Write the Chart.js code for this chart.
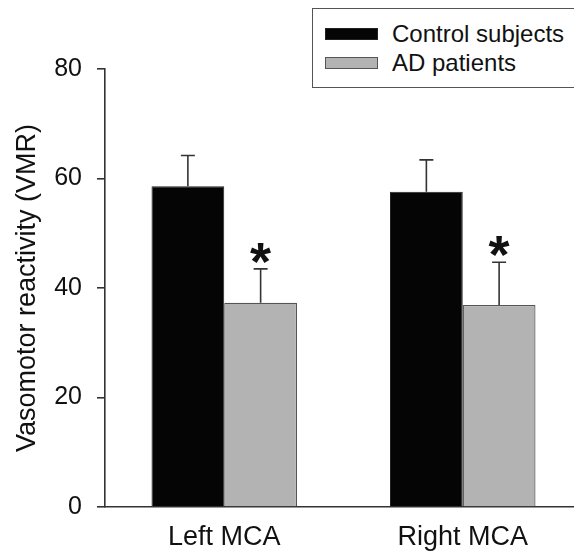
<!DOCTYPE html>
<html>
<head>
<meta charset="utf-8">
<script src="https://cdn.jsdelivr.net/npm/chart.js@4.4.1/dist/chart.umd.min.js"></script>
<style>
  html, body { margin: 0; padding: 0; background: #fff; overflow: hidden; }
  /* canvas is a little wider than the page: the x axis runs off the right edge */
  #wrap { position: relative; width: 574px; height: 552px; overflow: hidden; }
  #legend {
    position: absolute; left: 312px; top: 8px; width: 300px; height: 78px;
    border: 1.5px solid #555; background: #fff;
    font-family: "Liberation Sans", Arial, sans-serif; font-size: 24px; color: #111;
  }
  .row { position: absolute; left: 12px; height: 26px; display: flex; align-items: center; }
  .sw { width: 51px; height: 10px; margin-right: 14px; border: 1px solid #444; }
</style>
</head>
<body>
<div id="wrap">
  <canvas id="vmrChart" width="582" height="552"></canvas>
  <div id="legend"></div>
</div>
<script>
const categories = ['Left MCA', 'Right MCA'];
const controlValues = [58.6, 57.6];
const controlErrors = [5.6, 5.8];
const adValues = [37.3, 36.9];
const adErrors = [6.2, 7.8];
const significant = [false, true];   // per dataset: mark with *
const yTicks = [0, 20, 40, 60, 80];

const fontFamily = '"Liberation Sans", Arial, sans-serif';

const datasets = [{
  label: 'Control subjects',
  data: controlValues,
  errors: controlErrors,
  backgroundColor: '#050505',
  borderColor: '#222',
  borderWidth: 1
}, {
  label: 'AD patients',
  data: adValues,
  errors: adErrors,
  backgroundColor: '#b3b3b3',
  borderColor: '#555',
  borderWidth: 1.2
}];

// upper error bars plus the * marks
const errorBars = {
  id: 'errorBars',
  afterDatasetsDraw(chart) {
    const ctx = chart.ctx;
    const y = chart.scales.y;
    ctx.save();
    chart.data.datasets.forEach((ds, i) => {
      const meta = chart.getDatasetMeta(i);
      meta.data.forEach((bar, j) => {
        const top = y.getPixelForValue(ds.data[j] + ds.errors[j]);
        ctx.strokeStyle = '#333';
        ctx.lineWidth = 1.6;
        ctx.beginPath();
        ctx.moveTo(bar.x, bar.y);
        ctx.lineTo(bar.x, top);
        ctx.moveTo(bar.x - 7, top);
        ctx.lineTo(bar.x + 7, top);
        ctx.stroke();
        if (significant[i]) {
          ctx.fillStyle = '#111';
          ctx.font = 'bold 54px ' + fontFamily;
          ctx.textAlign = 'center';
          ctx.textBaseline = 'middle';
          ctx.fillText('*', bar.x, top - 4);
        }
      });
    });
    ctx.restore();
  }
};

new Chart(document.getElementById('vmrChart').getContext('2d'), {
  type: 'bar',
  data: { labels: categories, datasets: datasets },
  options: {
    responsive: false,
    animation: false,
    layout: { padding: { left: 11, right: 0, top: 69, bottom: 0 } },
    categoryPercentage: 0.61,
    barPercentage: 1.0,
    plugins: { legend: { display: false }, tooltip: { enabled: false } },
    scales: {
      x: {
        afterFit(scale) { scale.height = 45; },
        grid: { display: false, drawTicks: false },
        border: { display: true, color: '#333', width: 1.6 },
        ticks: { color: '#111', padding: 14, font: { family: fontFamily, size: 27 } }
      },
      y: {
        min: 0,
        max: 80,
        afterBuildTicks(scale) { scale.ticks = yTicks.map(v => ({ value: v })); },
        afterFit(scale) { scale.width = 94; },
        grid: { drawOnChartArea: false, tickLength: 8, color: '#333', lineWidth: 1.6 },
        border: { display: true, color: '#333', width: 1.6 },
        ticks: { color: '#111', padding: 15, font: { family: fontFamily, size: 25 } },
        title: {
          display: true,
          text: 'Vasomotor reactivity (VMR)',
          color: '#111',
          padding: { top: 0, bottom: 0 },
          font: { family: fontFamily, size: 27 }
        }
      }
    }
  },
  plugins: [errorBars]
});

// legend built from the datasets
const legend = document.getElementById('legend');
datasets.forEach((ds, i) => {
  const row = document.createElement('div');
  row.className = 'row';
  row.style.top = (12 + i * 29) + 'px';
  const sw = document.createElement('span');
  sw.className = 'sw';
  sw.style.background = ds.backgroundColor;
  sw.style.borderColor = ds.borderColor;
  const txt = document.createElement('span');
  txt.textContent = ds.label;
  row.appendChild(sw);
  row.appendChild(txt);
  legend.appendChild(row);
});
</script>
</body>
</html>
